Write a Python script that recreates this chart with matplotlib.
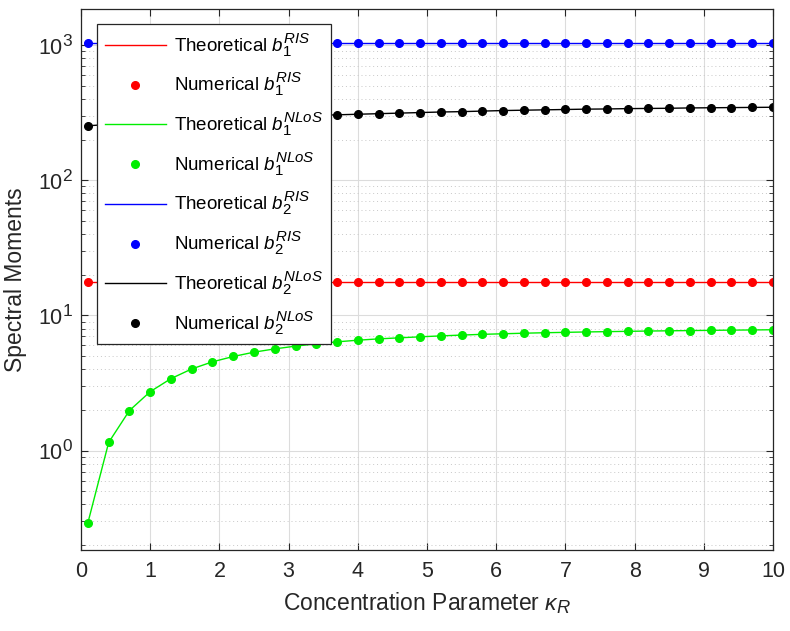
import matplotlib
matplotlib.use("Agg")
import matplotlib.pyplot as plt
import matplotlib._mathtext as mtext
from matplotlib.ticker import LogLocator, NullFormatter, MultipleLocator

plt.rcParams['font.family'] = ['Liberation Sans', 'DejaVu Sans']
plt.rcParams['mathtext.fontset'] = 'custom'
plt.rcParams['mathtext.rm'] = 'Liberation Sans'
plt.rcParams['mathtext.it'] = 'Liberation Sans:italic'
# MATLAB's tex scripts are a bit bigger than mathtext's default
mtext.SHRINK_FACTOR = 0.8

# kappa_R sample points (0.1 : 0.3 : 10)
kappa = [0.1, 0.4, 0.7, 1.0, 1.3, 1.6, 1.9, 2.2, 2.5, 2.8, 3.1, 3.4,
         3.7, 4.0, 4.3, 4.6, 4.9, 5.2, 5.5, 5.8, 6.1, 6.4, 6.7, 7.0,
         7.3, 7.6, 7.9, 8.2, 8.5, 8.8, 9.1, 9.4, 9.7, 10.0]

b1_ris = [17.7] * len(kappa)
b2_ris = [1045.0] * len(kappa)
b1_nlos = [0.293, 1.15, 1.98, 2.73, 3.41, 4.02, 4.54, 4.97, 5.35, 5.66, 5.93, 6.17,
           6.38, 6.56, 6.71, 6.83, 6.95, 7.06, 7.16, 7.25, 7.32, 7.39, 7.45, 7.50,
           7.55, 7.59, 7.63, 7.67, 7.70, 7.73, 7.76, 7.79, 7.81, 7.84]
b2_nlos = [253, 259, 265, 270, 275, 280, 284, 288, 292, 296, 299, 302,
           305, 308, 311, 314, 317, 320, 322, 325, 328, 330, 332, 334,
           336, 337, 339, 340, 341, 343, 344, 345, 346, 347]

series = [
    (b1_ris, 'red', 'b_1^{RIS}'),
    (b1_nlos, '#00ee00', 'b_1^{NLoS}'),
    (b2_ris, 'blue', 'b_2^{RIS}'),
    (b2_nlos, 'black', 'b_2^{NLoS}'),
]

fig = plt.figure(figsize=(7.9, 6.31), dpi=100)
ax = fig.add_axes([81 / 790, 1 - 550 / 631, 692 / 790, 541 / 631])

for vals, col, name in series:
    ax.plot(kappa, vals, '-', color=col, lw=1.0, label='Theoretical $' + name + '$')
    ax.plot(kappa, vals, 'o', color=col, ms=5.5, ls='none', label='Numerical $' + name + '$')

ax.set_yscale('log')
ax.set_xlim(0, 10)
ax.set_ylim(0.184, 1850)
ax.xaxis.set_major_locator(MultipleLocator(1))
ax.yaxis.set_major_locator(LogLocator(base=10, numticks=10))
ax.yaxis.set_minor_locator(LogLocator(base=10, subs=range(2, 10), numticks=20))
ax.yaxis.set_minor_formatter(NullFormatter())

ax.grid(True, which='major', color='#dcdcdc', lw=0.8)
ax.grid(True, which='minor', axis='y', color='#c8c8c8', lw=0.7, ls=(0, (1, 3)))
ax.set_axisbelow(True)

ax.tick_params(which='both', direction='in', top=True, right=True, labelsize=15.5,
               colors='#262626')
ax.tick_params(axis='x', pad=8)
ax.tick_params(axis='y', pad=6)
ax.tick_params(which='major', length=5, width=0.8)
ax.tick_params(which='minor', length=3, width=0.6)
for s in ax.spines.values():
    s.set_color('#262626')
    s.set_linewidth(0.9)

ax.set_xlabel(r'Concentration Parameter $\kappa_R$', fontsize=16.5, color='#262626',
              labelpad=6)
ax.set_ylabel('Spectral Moments', fontsize=16.5, color='#262626', labelpad=8)

leg = ax.legend(loc='upper left', bbox_to_anchor=(16 / 692, 1 - 15 / 541),
                fontsize=13.5, frameon=True, fancybox=False, framealpha=1,
                edgecolor='#262626', handlelength=3.3, handletextpad=0.4,
                labelspacing=0.67, borderpad=0.4, borderaxespad=0)
leg.get_frame().set_linewidth(0.9)

fig.savefig('out.png', dpi=100)
